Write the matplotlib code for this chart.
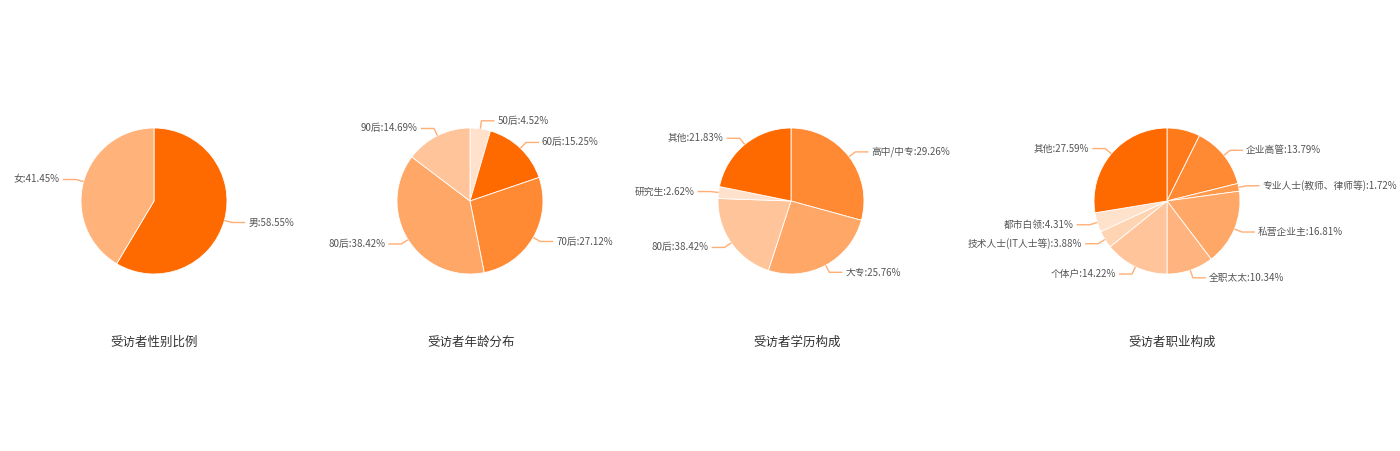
import numpy as np
import matplotlib
matplotlib.use('Agg')
import matplotlib.pyplot as plt

plt.rcParams['font.family'] = ['Noto Sans CJK SC', 'DejaVu Sans']

# --- data ---
gender_names = ['男', '女']
gender_values = [58.55, 41.45]

age_names = ['50后', '60后', '70后', '80后', '90后']
age_values = [4.52, 15.25, 27.12, 38.42, 14.69]

edu_names = ['高中/中专', '大专', '80后', '研究生', '其他']
edu_values = [29.26, 25.76, 20.53, 2.62, 21.83]
edu_shown = [29.26, 25.76, 38.42, 2.62, 21.83]   # percentages printed on the labels

job_names = ['', '企业高管', '专业人士(教师、律师等)', '私营企业主', '全职太太',
             '个体户', '技术人士(IT人士等)', '都市白领', '其他']
job_values = [7.34, 13.79, 1.72, 16.81, 10.34, 14.22, 3.88, 4.31, 27.59]

titles = ['受访者性别比例', '受访者年龄分布', '受访者学历构成', '受访者职业构成']

# --- style ---
gender_colors = ['#FF6A00', '#FFB27A']
age_colors = ['#FFE1CC', '#FF6A00', '#FF8A33', '#FFA766', '#FFC499']
edu_colors = ['#FF8A33', '#FFA766', '#FFC499', '#FFE1CC', '#FF6A00']
job_colors = ['#FF7A1A', '#FF8A33', '#FF9A4D', '#FFA766', '#FFB480',
              '#FFC499', '#FFD4B3', '#FFE2CC', '#FF6A00']
line_color = '#FFAE75'
text_color = '#555555'

W, H = 1400, 451
fig = plt.figure(figsize=(W / 100, H / 100), dpi=100)
ax = fig.add_axes([0, 0, 1, 1])

R = 73
centers_x = [154, 470, 791, 1167]
cy = H - 201
title_x = [154, 471, 797, 1172]


def draw(cx, values, colors, names, shown):
    ax.pie(values, colors=colors, center=(cx, cy), radius=R, startangle=90,
           counterclock=False, normalize=True,
           wedgeprops=dict(edgecolor='white', linewidth=0.6))
    total = float(sum(values))
    start = 0.0
    for v, name, pct in zip(values, names, shown):
        mid = (start + v / 2) / total * 2 * np.pi
        start += v
        if not name:
            continue
        dx, dy = np.sin(mid), np.cos(mid)
        p1 = (cx + R * dx, cy + R * dy)
        p2 = (cx + (R + 8) * dx, cy + (R + 8) * dy)
        side = 1 if dx >= 0 else -1
        p3 = (p2[0] + side * 13, p2[1])
        ax.plot([p1[0], p2[0], p3[0]], [p1[1], p2[1], p3[1]],
                color=line_color, lw=1.0, solid_capstyle='butt')
        ax.text(p3[0] + side * 3, p3[1], f'{name}:{pct:.2f}%',
                ha='left' if side > 0 else 'right', va='center',
                fontsize=7, color=text_color)


draw(centers_x[0], gender_values, gender_colors, gender_names, gender_values)
draw(centers_x[1], age_values, age_colors, age_names, age_values)
draw(centers_x[2], edu_values, edu_colors, edu_names, edu_shown)
draw(centers_x[3], job_values, job_colors, job_names, job_values)

for x, t in zip(title_x, titles):
    ax.text(x, H - 342, t, ha='center', va='center', fontsize=9, color='#333333')

# pie() resets the limits, so set them after all pies are drawn
ax.set_xlim(0, W)
ax.set_ylim(0, H)
ax.set_aspect('equal')
ax.axis('off')

fig.savefig('out.png', dpi=100, facecolor='white')
